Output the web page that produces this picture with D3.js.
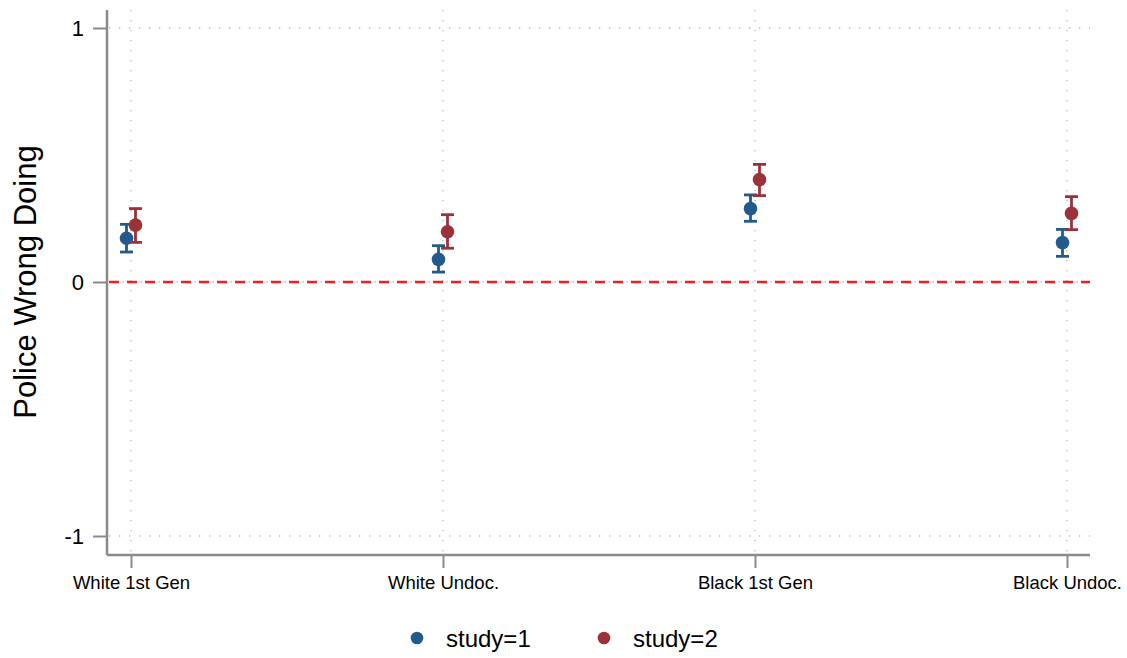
<!DOCTYPE html>
<html>
<head>
<meta charset="utf-8">
<script src="https://cdn.jsdelivr.net/npm/d3@7"></script>
<style>
  html, body { margin: 0; padding: 0; background: #fff; }
  svg { display: block; font-family: "Liberation Sans", Arial, Helvetica, sans-serif; }
</style>
</head>
<body>
<svg id="chart" width="1127" height="658"></svg>
<script>
// Groups along the x axis
const categories = ["White 1st Gen", "White Undoc.", "Black 1st Gen", "Black Undoc."];
const studies = ["study=1", "study=2"];

// Point estimates and 95% intervals, one entry per category
const study1Est = [0.172, 0.089, 0.289, 0.155];
const study1Lo  = [0.118, 0.039, 0.239, 0.101];
const study1Hi  = [0.227, 0.143, 0.343, 0.207];

const study2Est = [0.224, 0.198, 0.403, 0.270];
const study2Lo  = [0.156, 0.133, 0.340, 0.206];
const study2Hi  = [0.289, 0.265, 0.463, 0.336];

const yTicks = [-1, 0, 1];
const yTickLabels = ["-1", "0", "1"];

const colors = ["#225a8e", "#9b3139"];

const svg = d3.select("#chart");
const plotLeft = 107, plotRight = 1090, plotTop = 10, plotBottom = 555;

const x = d3.scalePoint().domain(categories).range([131, 1067]);
const y = d3.scaleLinear().domain([-1, 1]).range([536, 28]);

// dotted grid
const grid = svg.append("g").attr("stroke", "#b8b8b8").attr("stroke-width", 1.3)
  .attr("stroke-dasharray", "1.3,8.7");
grid.selectAll("line.h").data(yTicks.filter(d => d !== 0)).join("line")
  .attr("x1", plotLeft + 2).attr("x2", plotRight).attr("y1", d => y(d)).attr("y2", d => y(d));
grid.selectAll("line.v").data(categories).join("line")
  .attr("x1", d => x(d)).attr("x2", d => x(d)).attr("y1", plotTop).attr("y2", plotBottom);
// grid at zero, dots falling between the red dashes
svg.append("line")
  .attr("x1", plotLeft + 2).attr("x2", plotRight).attr("y1", y(0)).attr("y2", y(0))
  .attr("stroke", "#b8b8b8").attr("stroke-width", 1.3)
  .attr("stroke-dasharray", "1.3,16.7").attr("stroke-dashoffset", -13.5);

// zero reference line
svg.append("line")
  .attr("x1", plotLeft + 2).attr("x2", plotRight).attr("y1", y(0)).attr("y2", y(0))
  .attr("stroke", "#f01e1e").attr("stroke-width", 2.5).attr("stroke-dasharray", "10,8");

// axes
const yAxis = svg.append("g").attr("transform", `translate(${plotLeft},0)`)
  .call(d3.axisLeft(y).tickValues(yTicks).tickFormat((d, i) => yTickLabels[i]).tickSize(14).tickPadding(9));
yAxis.select(".domain").attr("d", `M0,${plotTop}V${plotBottom}`);
const xAxis = svg.append("g").attr("transform", `translate(0,${plotBottom})`)
  .call(d3.axisBottom(x).tickSize(13).tickPadding(5));
xAxis.select(".domain").attr("d", `M${plotLeft},0H${plotRight}`);

[yAxis, xAxis].forEach(a => {
  a.selectAll(".domain").attr("stroke", "#8a8a8a").attr("stroke-width", 2.5);
  a.selectAll(".tick line").attr("stroke", "#8a8a8a").attr("stroke-width", 2);
  a.selectAll("text").attr("fill", "#000").attr("font-family", "Liberation Sans, Arial, sans-serif");
});
yAxis.selectAll("text").attr("font-size", 22);
xAxis.selectAll("text").attr("font-size", 18.5).attr("dy", "0.85em");

// y label
svg.append("text")
  .attr("transform", `translate(36,${y(0)}) rotate(-90)`)
  .attr("text-anchor", "middle")
  .attr("font-size", 31)
  .text("Police Wrong Doing");

// estimates with intervals
const series = [
  { est: study1Est, lo: study1Lo, hi: study1Hi, offset: -4.5, color: colors[0] },
  { est: study2Est, lo: study2Lo, hi: study2Hi, offset: 4.5, color: colors[1] }
];
series.forEach(s => {
  const g = svg.append("g").attr("stroke", s.color).attr("fill", s.color);
  const rows = categories.map((c, i) => ({ c, est: s.est[i], lo: s.lo[i], hi: s.hi[i] }));
  const cx = d => x(d.c) + s.offset;
  g.selectAll("line.bar").data(rows).join("line")
    .attr("x1", cx).attr("x2", cx).attr("y1", d => y(d.lo)).attr("y2", d => y(d.hi))
    .attr("stroke-width", 2.8);
  g.selectAll("line.capHi").data(rows).join("line")
    .attr("x1", d => cx(d) - 6.5).attr("x2", d => cx(d) + 6.5)
    .attr("y1", d => y(d.hi)).attr("y2", d => y(d.hi)).attr("stroke-width", 2.8);
  g.selectAll("line.capLo").data(rows).join("line")
    .attr("x1", d => cx(d) - 6.5).attr("x2", d => cx(d) + 6.5)
    .attr("y1", d => y(d.lo)).attr("y2", d => y(d.lo)).attr("stroke-width", 2.8);
  g.selectAll("circle").data(rows).join("circle")
    .attr("cx", cx).attr("cy", d => y(d.est)).attr("r", 6.8).attr("stroke", "none");
});

// legend
const legend = svg.append("g");
const legendX = [417, 604];
studies.forEach((name, i) => {
  legend.append("circle").attr("cx", legendX[i]).attr("cy", 638).attr("r", 6.3).attr("fill", colors[i]);
  legend.append("text").attr("x", legendX[i] + 29).attr("y", 638).attr("dy", "0.36em")
    .attr("font-size", 24).text(name);
});
</script>
</body>
</html>
